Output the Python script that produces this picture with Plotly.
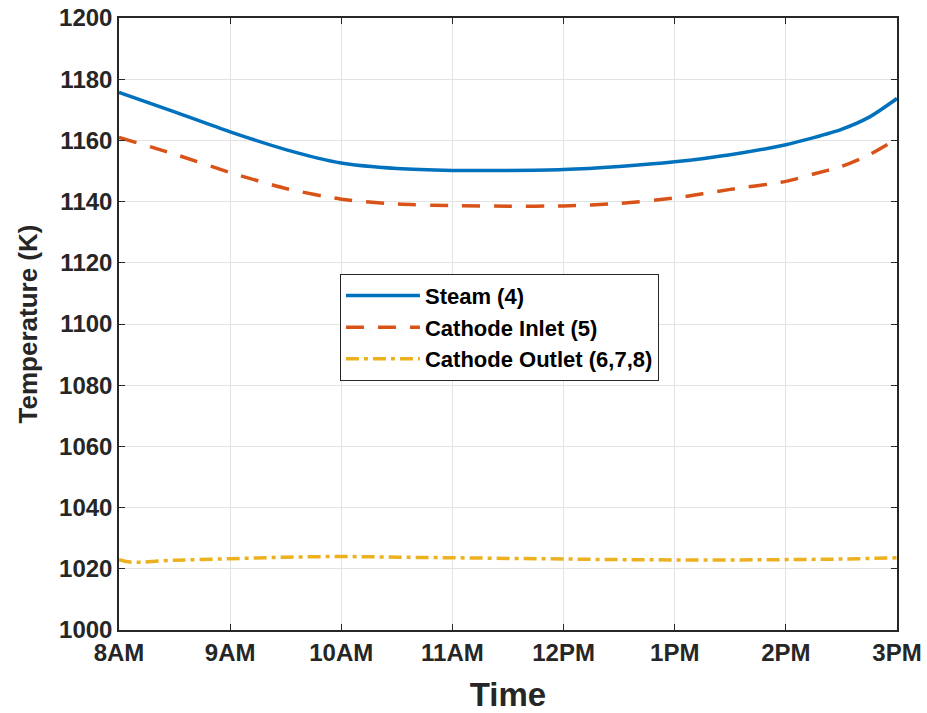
import plotly.graph_objects as go

hours = [8, 8.5, 9, 9.5, 10, 10.5, 11, 11.5, 12, 12.5, 13, 13.5, 14, 14.25, 14.5, 14.75, 15]
steam = [1175.7, 1169.3, 1162.8, 1157, 1152.6, 1150.8, 1150.2, 1150.2, 1150.5, 1151.5, 1153, 1155.3, 1158.6, 1160.9, 1163.6, 1167.6, 1173.7]
cathode_inlet = [1161, 1155.5, 1149.5, 1144.3, 1140.8, 1139.2, 1138.7, 1138.5, 1138.6, 1139.4, 1141.2, 1144, 1146.6, 1149, 1151.5, 1155.3, 1160.5]
outlet_hours = [8, 8.1, 8.5, 9, 9.5, 10, 10.5, 11, 11.5, 12, 12.5, 13, 13.5, 14, 14.5, 15]
cathode_outlet = [1023, 1022.2, 1022.8, 1023.3, 1023.8, 1024, 1023.8, 1023.6, 1023.4, 1023.2, 1023.0, 1022.9, 1022.9, 1023.0, 1023.2, 1023.6]

tick_vals = [8, 9, 10, 11, 12, 13, 14, 15]
tick_text = ["8AM", "9AM", "10AM", "11AM", "12PM", "1PM", "2PM", "3PM"]

font_family = "Liberation Sans, Arial, sans-serif"
ink = "#262626"

fig = go.Figure()
fig.add_trace(go.Scatter(x=hours, y=steam, mode="lines", name="<b>Steam (4)</b>",
                         line=dict(color="#0072BD", width=3.5, shape="spline", smoothing=0.7)))
fig.add_trace(go.Scatter(x=hours, y=cathode_inlet, mode="lines", name="<b>Cathode Inlet (5)</b>",
                         line=dict(color="#D95319", width=3.5, dash="18px,14px", shape="spline", smoothing=0.7)))
fig.add_trace(go.Scatter(x=outlet_hours, y=cathode_outlet, mode="lines", name="<b>Cathode Outlet (6,7,8)</b>",
                         line=dict(color="#EDB120", width=3.5, dash="13px,5px,4px,5px", shape="spline")))

axis_common = dict(
    showgrid=True, gridcolor="#E3E3E3", gridwidth=1,
    showline=True, linecolor=ink, linewidth=1.5, mirror="allticks",
    ticks="inside", ticklen=6, tickcolor=ink, zeroline=False, automargin=False,
    tickfont=dict(family=font_family, size=24, color=ink, weight="bold"),
)

fig.update_layout(
    width=927, height=713,
    margin=dict(l=119, r=30, t=18, b=83),
    paper_bgcolor="white", plot_bgcolor="white",
    xaxis=dict(range=[8, 15], tickvals=tick_vals, ticktext=tick_text,
               title=dict(text="<b>Time</b>", font=dict(family=font_family, size=33, color=ink), standoff=18),
               **axis_common),
    yaxis=dict(range=[1000, 1200], dtick=20,
               title=dict(text="<b>Temperature (K)</b>",
                          font=dict(family=font_family, size=26, color=ink),
                          standoff=14),
               **axis_common),
    legend=dict(x=0.284, y=0.582, xanchor="left", yanchor="top",
                bgcolor="white", bordercolor=ink, borderwidth=1,
                font=dict(family=font_family, size=22, color="#000000"),
                tracegroupgap=0, itemwidth=74),
    showlegend=True,
)

fig.write_html("out.html")
